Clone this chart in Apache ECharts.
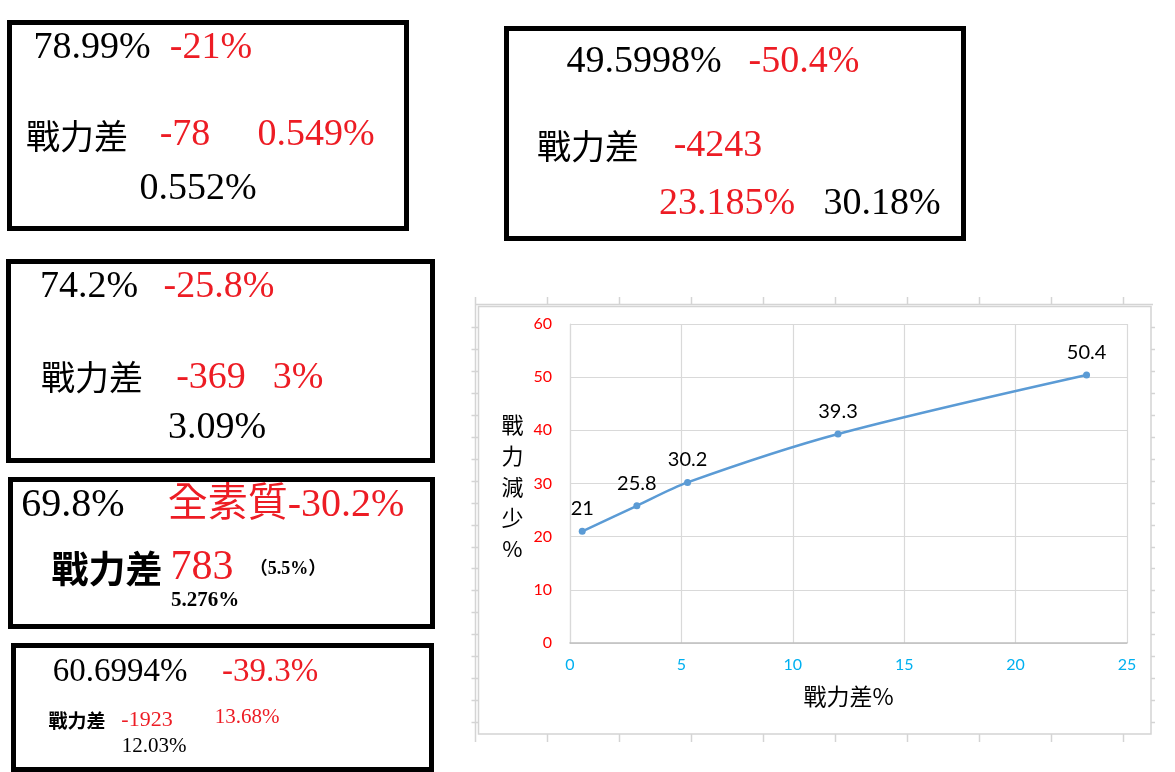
<!DOCTYPE html>
<html>
<head>
<meta charset="utf-8">
<title>戰力差 / 戰力減少</title>
<script src="https://cdn.jsdelivr.net/npm/echarts@6/dist/echarts.min.js"></script>
<style>
  html, body { margin: 0; padding: 0; background: #fff; }
  #main { width: 1175px; height: 772px; }
</style>
</head>
<body>
<div id="main"></div>
<script>
// scatter data: 戰力差% on x, 戰力減少% on y
const powerDiff = [0.549, 3, 5.276, 12.03, 23.185]
const powerDrop = [21, 25.8, 30.2, 39.3, 50.4]
const xTicks = [0, 5, 10, 15, 20, 25]
const yTicks = [0, 10, 20, 30, 40, 50, 60]

// the note boxes around the chart
const note1 = ['78.99%', '-21%', '戰力差', '-78', '0.549%', '0.552%']
const note2 = ['49.5998%', '-50.4%', '戰力差', '-4243', '23.185%', '30.18%']
const note3 = ['74.2%', '-25.8%', '戰力差', '-369', '3%', '3.09%']
const note4 = ['69.8%', '全素質-30.2%', '戰力差', '783', '（5.5%）', '5.276%']
const note5 = ['60.6994%', '-39.3%', '戰力差', '-1923', '13.68%', '12.03%']

const K = '#000'
const R = '#ed1c24'
const serif = 'Liberation Serif, Noto Sans CJK TC, serif'
const sans = 'Noto Sans CJK TC, sans-serif'

// box outer edges [x0, y0, x1, y1] and per-text [cx, cy, size, color, weight]
const noteLayout = [
  { box: [7, 20, 409, 231], items: [[92, 48.5, 38, K], [211, 48.5, 38, R], [77, 136, 34, K], [185, 135, 38, R], [316, 135, 38, R], [198, 189.5, 38, K]] },
  { box: [504, 26, 966, 241], items: [[644, 62.5, 38, K], [804, 62.5, 38, R], [588, 146, 34, K], [718, 146, 38, R], [727, 204.5, 38, R], [882, 204.5, 38, K]] },
  { box: [6, 259, 435, 463], items: [[89, 287.5, 38, K], [219, 287.5, 38, R], [92, 377.5, 34, K], [211, 378, 38, R], [298, 378, 38, R], [217, 428.5, 38, K]] },
  { box: [8, 477, 435, 629], items: [[73, 505, 40, K], [286, 505, 40, R], [107, 569, 37, K, 'bold'], [202, 567.5, 42, R], [288, 569, 18, K, 'bold'], [205, 600.5, 21, K, 'bold']] },
  { box: [11, 643, 434, 772], items: [[120, 672.5, 33, K], [270, 672.5, 33, R], [77, 720.5, 19, K, 'bold'], [147, 720.5, 22, R], [247, 717.5, 21, R], [154, 746.5, 21, K]] }
]
const notes = [note1, note2, note3, note4, note5]

function noteGraphics () {
  const out = []
  notes.forEach((texts, i) => {
    const l = noteLayout[i]
    const [x0, y0, x1, y1] = l.box
    out.push({
      type: 'rect',
      shape: { x: x0 + 2.5, y: y0 + 2.5, width: x1 - x0 - 5, height: y1 - y0 - 5 },
      style: { fill: '#fff', stroke: '#000', lineWidth: 5 }
    })
    texts.forEach((t, j) => {
      const [cx, cy, size, color, weight] = l.items[j]
      out.push({
        type: 'text', x: cx, y: cy, z: 10,
        style: {
          text: t, fill: color, fontSize: size, fontWeight: weight || 'normal',
          fontFamily: /[\u4e00-\u9fff]/.test(t) && !/\d/.test(t) ? sans : serif,
          align: 'center', verticalAlign: 'middle'
        }
      })
    })
  })
  return out
}

// faint worksheet cell lines behind the Excel chart, plus the chart frame
function sheetGraphics () {
  const gray = '#d4d4d4'
  const ln = (x1, y1, x2, y2) => ({ type: 'line', shape: { x1, y1, x2, y2 }, style: { stroke: gray, lineWidth: 1.5 } })
  const out = [ln(475.5, 297, 475.5, 742), ln(475, 304.5, 1153, 304.5)]
  for (let c = 0; c < 9; c++) {
    const x = 547.5 + c * 72
    out.push(ln(x, 297, x, 304), ln(x, 734, x, 742))
  }
  for (let r = 0; r < 19; r++) {
    const y = Math.round(326.7 + r * 21.98) + 0.5
    out.push(ln(471.5, y, 478.5, y), ln(1151, y, 1155, y))
  }
  out.push({ type: 'rect', shape: { x: 478.5, y: 306.5, width: 672.5, height: 427.5 }, style: { fill: 'none', stroke: gray, lineWidth: 1.5 } })
  out.push({
    type: 'text', x: 512.5, y: 486.5,
    style: { text: '戰\n力\n減\n少\n%', fontSize: 22, lineHeight: 31, fontFamily: sans, fill: '#000', align: 'center', verticalAlign: 'middle' }
  })
  return out
}

const chart = echarts.init(document.getElementById('main'), null, { renderer: 'canvas' })

const option = {
  animation: false,
  backgroundColor: '#fff',
  grid: { left: 570, right: 48, top: 324, bottom: 129, containLabel: false },
  xAxis: {
    type: 'value',
    min: xTicks[0], max: xTicks[xTicks.length - 1], interval: xTicks[1] - xTicks[0],
    axisLine: { lineStyle: { color: '#bfbfbf', width: 1.5 } },
    axisTick: { show: false },
    axisLabel: { color: '#00b0f0', fontSize: 16, fontFamily: 'Lato', margin: 14 },
    splitLine: { lineStyle: { color: '#d9d9d9', width: 1.2 } },
    name: '戰力差%', nameLocation: 'middle', nameGap: 42,
    nameTextStyle: { color: '#000', fontSize: 23, fontFamily: sans }
  },
  yAxis: {
    type: 'value',
    min: yTicks[0], max: yTicks[yTicks.length - 1], interval: yTicks[1] - yTicks[0],
    axisLine: { show: true, lineStyle: { color: '#d9d9d9', width: 1.2 } },
    axisTick: { show: false },
    axisLabel: { color: '#ff0000', fontSize: 16, fontFamily: 'Lato', margin: 18 },
    splitLine: { lineStyle: { color: '#d9d9d9', width: 1.2 } }
  },
  graphic: sheetGraphics().concat(noteGraphics()),
  series: [{
    type: 'line',
    data: powerDiff.map((x, i) => [x, powerDrop[i]]),
    smooth: 0.3,
    symbol: 'circle',
    symbolSize: 7,
    itemStyle: { color: '#5b9bd5' },
    lineStyle: { color: '#5b9bd5', width: 2.5 },
    label: {
      show: true, position: 'top', distance: 9,
      color: '#000', fontSize: 20, fontFamily: 'Lato',
      formatter: p => p.value[1]
    }
  }]
}

chart.setOption(option)
</script>
</body>
</html>
